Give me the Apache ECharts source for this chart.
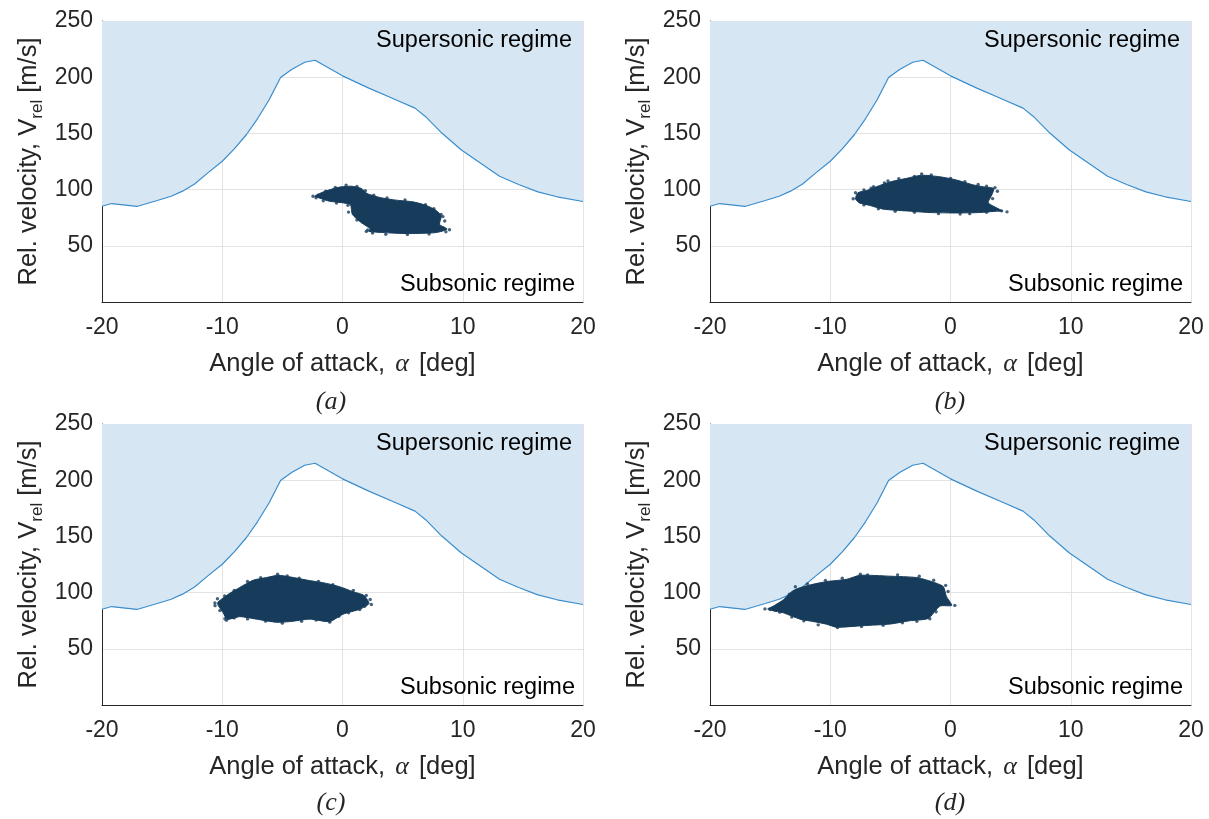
<!DOCTYPE html>
<html><head><meta charset="utf-8">
<script src="https://cdn.jsdelivr.net/npm/echarts@6/dist/echarts.min.js"></script>
<style>html,body{margin:0;padding:0;background:#fff}#c{width:1209px;height:819px}</style>
</head><body><div id="c"></div>
<script>
// ---- data ----
var xTicks = [-20, -10, 0, 10, 20];
var yTicks = [50, 100, 150, 200, 250];
var panelLabels = ['(a)', '(b)', '(c)', '(d)'];
// Supersonic/subsonic boundary: [angle of attack, velocity]
var boundary = [
  [-20, 85.2], [-19.2, 87.6], [-17.1, 85], [-15.4, 90.3], [-14.25, 94.1], [-13.3, 98.6],
  [-12.3, 105], [-11.2, 114.9], [-10, 125.2], [-9.0, 136.2], [-8.0, 148.8], [-7.07, 163],
  [-6.1, 179.9], [-5.15, 199.7], [-4.2, 207.1], [-3.14, 213.3], [-2.28, 215.1], [0, 201.2],
  [2.19, 190.3], [4.43, 179.9], [6.03, 172.5], [6.89, 165.1], [8.26, 150.3], [9.86, 135.5],
  [11.46, 123.7], [13.06, 111.9], [14.65, 104.5], [16.25, 98], [17.85, 93.6], [20, 89.4]
];
// Outline of the dense sample clouds
var cloudA = [[-2.3,94.1],[-1.62,97.8],[-0.79,100.8],[-0.09,102.5],[0.74,103.0],[1.57,101.0],[2.04,96.5],[3.09,93.0],[4.47,90.6],[5.86,89.1],[6.97,85.9],[7.8,81.4],[8.21,76.4],[8.07,69.0],[8.7,64.8],[7.8,61.8],[6.41,61.0],[4.75,61.0],[3.37,61.8],[2.2,62.8],[2.3,65.2],[1.57,70.5],[0.82,77.9],[0.65,86.7],[-0.09,88.4],[-1.06,89.6],[-1.89,92.4]];
var cloudB = [[-7.9,91.8],[-7.7,97.2],[-6.98,99.2],[-6.15,102.6],[-5.04,106.8],[-3.65,110.0],[-2.41,112.8],[-0.88,111.4],[0.5,108.5],[1.89,104.2],[3.0,102.0],[3.6,101.0],[3.45,95.6],[3.14,88.2],[4.3,81.0],[3.83,80.8],[2.44,79.6],[0.5,79.2],[-1.71,79.6],[-3.65,81.0],[-5.59,82.6],[-6.7,85.9],[-7.6,88.4]];
var cloudC = [[-10.4,90.8],[-10.1,93.8],[-9.37,99.4],[-8.54,104.6],[-7.43,111.0],[-6.32,113.4],[-5.35,115.4],[-4.39,114.0],[-3.0,111.2],[-1.34,108.2],[-0.23,105.2],[0.88,100.8],[1.8,97.4],[2.2,90.2],[1.43,85.2],[0.04,80.8],[-1.06,74.2],[-2.72,76.4],[-4.39,74.2],[-5.49,73.6],[-7.15,76.4],[-8.54,78.6],[-9.6,76.2],[-9.92,82.0],[-10.3,87.9]];
var cloudD = [[-15.2,85.5],[-14.74,87.9],[-13.9,93.6],[-13.21,100.8],[-12.66,103.8],[-11.69,106.8],[-10.3,109.8],[-8.64,111.8],[-7.53,115.4],[-5.04,114.6],[-2.82,113.4],[-1.57,109.8],[-0.6,105.4],[-0.35,96.8],[0.1,88.6],[-0.88,88.0],[-1.85,77.0],[-3.37,75.0],[-5.04,72.0],[-7.25,70.6],[-9.47,69.2],[-10.3,71.9],[-11.69,74.8],[-12.52,76.4],[-13.9,82.0],[-14.9,84.3]];
// Scattered samples around each cloud
var outA = [[-2.45,94.1],[-2.03,95.0],[-1.4,98.6],[-0.6,101.9],[0.3,104.0],[1.2,102.8],[1.9,99.0],[2.6,95.0],[3.7,92.6],[5.2,90.8],[6.9,86.6],[7.6,83.0],[8.2,78.0],[8.35,76.0],[8.5,72.0],[8.35,66.0],[8.9,64.3],[8.6,62.4],[7.2,60.5],[5.4,60.0],[3.6,60.3],[2.5,61.4],[1.98,62.8],[2.1,64.0],[1.2,73.0],[0.5,80.0],[0.45,86.0],[-0.5,88.0],[-1.6,90.0],[-2.2,92.8]];
var outB = [[-8.09,91.8],[-7.9,97.2],[-7.5,89.0],[-7.2,99.6],[-6.4,102.6],[-5.5,106.0],[-4.3,109.6],[-3.0,111.6],[-2.4,114.0],[-1.6,113.0],[0.0,110.0],[1.2,107.0],[2.3,104.6],[3.0,103.0],[3.7,101.8],[3.9,98.5],[3.5,92.0],[3.2,85.5],[4.25,81.1],[4.7,80.2],[3.0,79.8],[1.6,78.6],[0.8,78.2],[-1.0,78.6],[-3.0,79.8],[-4.6,80.8],[-6.0,83.0],[-7.2,86.4],[-6.6,101.2],[-5.2,107.8]];
var outC = [[-10.61,90.8],[-10.4,94.5],[-9.8,97.0],[-9.0,102.0],[-7.9,109.9],[-6.8,113.2],[-5.4,116.3],[-4.6,114.9],[-3.6,112.8],[-2.0,110.0],[-0.8,107.0],[0.9,102.0],[1.98,97.5],[2.3,93.8],[2.4,89.4],[1.84,87.9],[1.43,84.9],[0.5,82.0],[-0.3,79.0],[-1.06,73.7],[-2.2,75.6],[-3.4,74.5],[-5.0,72.8],[-6.4,74.6],[-7.9,76.6],[-9.0,77.5],[-9.78,76.7],[-9.65,75.4],[-10.2,84.0],[-10.6,88.4]];
var outD = [[-15.43,85.5],[-15.0,84.9],[-14.4,88.8],[-14.2,86.6],[-13.4,98.5],[-12.9,105.2],[-11.9,107.8],[-10.4,110.9],[-9.0,112.8],[-7.5,116.3],[-6.9,115.8],[-4.4,115.8],[-2.6,114.6],[-1.4,111.0],[-0.4,106.4],[-0.2,101.0],[0.36,88.6],[-0.8,91.7],[-1.2,83.0],[-1.72,76.7],[-2.8,74.4],[-4.0,73.2],[-5.6,71.0],[-7.4,69.8],[-9.4,68.9],[-11.0,71.3],[-12.2,75.0],[-13.2,78.2],[-14.2,82.6],[-14.6,84.2]];
var clouds = [cloudA, cloudB, cloudC, cloudD];
var outliers = [outA, outB, outC, outD];

// ---- layout / style ----
var FONT = '"Liberation Sans", Arial, Helvetica, sans-serif';
var SERIF = '"Liberation Serif","DejaVu Serif",serif';
var TXT = '#262626';
var CLOUD = '#173c5b';
var grids = [
  {left: 102, top: 21, width: 481, height: 281},
  {left: 710, top: 21, width: 481, height: 281},
  {left: 102, top: 424, width: 481, height: 281},
  {left: 710, top: 424, width: 481, height: 281}
];
var labelPos = [[331, 402], [950, 402], [331, 803], [950, 803]];

var chart = echarts.init(document.getElementById('c'), null, {renderer: 'canvas'});
var xAxes = [], yAxes = [], series = [], graphics = [];
grids.forEach(function (g, i) {
  xAxes.push({
    type: 'value', gridIndex: i, min: xTicks[0], max: xTicks[xTicks.length - 1], interval: 10,
    axisLine: {show: true, onZero: false, lineStyle: {color: TXT, width: 1}},
    axisTick: {show: false},
    splitLine: {show: true, lineStyle: {color: '#e3e3e3', width: 1}},
    axisLabel: {fontSize: 23, color: TXT, fontFamily: FONT, margin: 14},
    name: '{n|Angle of attack, }{a|α}{n| [deg]}',
    nameLocation: 'middle', nameGap: 49,
    nameTextStyle: {
      rich: {
        n: {fontSize: 25.5, fontFamily: FONT, color: TXT},
        a: {fontSize: 26, fontFamily: SERIF, fontStyle: 'italic', color: TXT, padding: [0, 3, 0, 3]}
      }
    }
  });
  yAxes.push({
    type: 'value', gridIndex: i, min: 0, max: yTicks[yTicks.length - 1], interval: 50,
    axisLine: {show: true, onZero: false, lineStyle: {color: TXT, width: 1}},
    axisTick: {show: false},
    splitLine: {show: true, lineStyle: {color: '#e3e3e3', width: 1}},
    axisLabel: {fontSize: 23, color: TXT, fontFamily: FONT, margin: 9,
      formatter: function (v) { return yTicks.indexOf(v) >= 0 ? String(v) : ''; }},
    name: '{n|Rel. velocity, V}{s|rel}{n| [m/s]}',
    nameLocation: 'middle', nameGap: 56, nameRotate: 90,
    nameTextStyle: {
      rich: {
        n: {fontSize: 25.5, fontFamily: FONT, color: TXT, lineHeight: 34},
        s: {fontSize: 17, fontFamily: FONT, color: TXT, lineHeight: 17, verticalAlign: 'bottom'}
      }
    }
  });
  series.push({
    type: 'line', xAxisIndex: i, yAxisIndex: i, data: boundary, showSymbol: false, symbol: 'none',
    lineStyle: {color: '#3b8dcc', width: 1.2},
    areaStyle: {origin: 'end', color: '#d6e6f2', opacity: 1},
    silent: true, z: 2
  });
  (function (poly) {
    series.push({
      type: 'custom', xAxisIndex: i, yAxisIndex: i, data: [[poly[0][0], poly[0][1]]], z: 3, silent: true,
      renderItem: function (params, api) {
        var pts = poly.map(function (p) { return api.coord(p); });
        return {type: 'polygon', shape: {points: pts, smooth: 0.2},
          style: {fill: CLOUD, stroke: CLOUD, lineWidth: 1}};
      }
    });
  })(clouds[i]);
  series.push({
    type: 'scatter', xAxisIndex: i, yAxisIndex: i, data: outliers[i], symbolSize: 3.4,
    itemStyle: {color: CLOUD}, silent: true, z: 4
  });
  graphics.push({type: 'text', x: g.left + g.width - 11, y: g.top + 20,
    style: {text: 'Supersonic regime', fill: '#000', font: '23.5px ' + FONT, textAlign: 'right', textVerticalAlign: 'middle'}, z: 10});
  graphics.push({type: 'text', x: g.left + g.width - 8, y: g.top + g.height - 17,
    style: {text: 'Subsonic regime', fill: '#000', font: '23.5px ' + FONT, textAlign: 'right', textVerticalAlign: 'middle'}, z: 10});
  graphics.push({type: 'text', x: labelPos[i][0], y: labelPos[i][1],
    style: {text: panelLabels[i], fill: TXT, font: 'italic 26px ' + SERIF, textAlign: 'center', textVerticalAlign: 'middle'}, z: 10});
});

chart.setOption({
  animation: false,
  backgroundColor: '#fff',
  grid: grids,
  xAxis: xAxes,
  yAxis: yAxes,
  series: series,
  graphic: graphics
});
</script></body></html>
